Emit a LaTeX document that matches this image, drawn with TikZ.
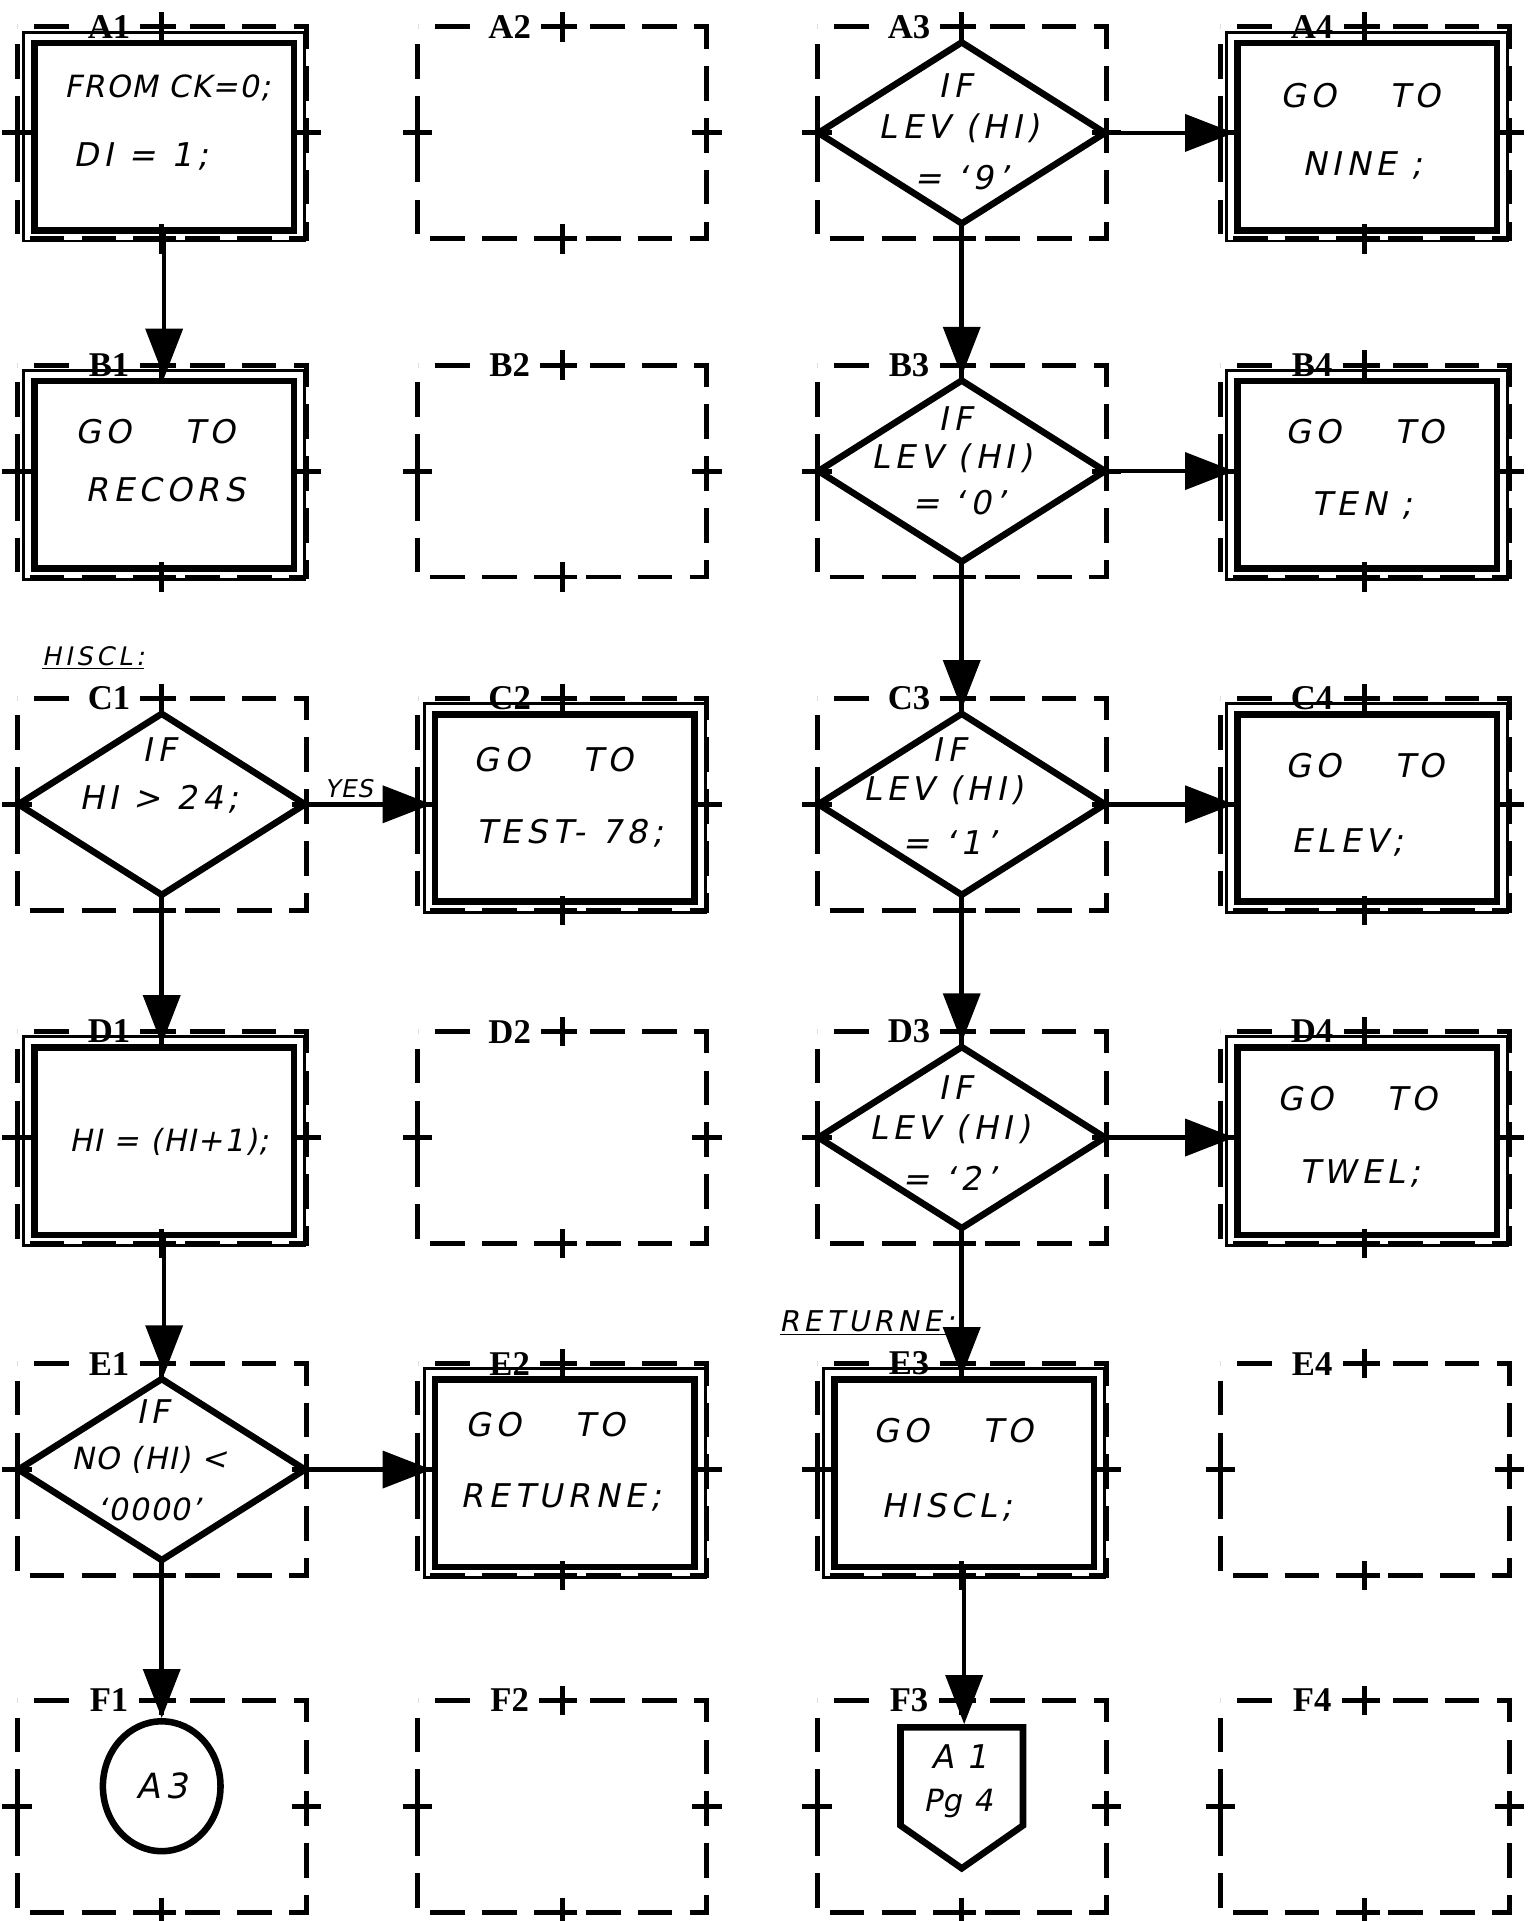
\documentclass[tikz,border=0pt]{standalone}
\usepackage{fontspec}
\setmainfont{Liberation Serif}
\newfontfamily\hand[FakeSlant=0.2,LetterSpace=15]{DejaVu Sans}
\newfontfamily\handn[FakeSlant=0.2,LetterSpace=4]{DejaVu Sans}
\usetikzlibrary{arrows.meta,shapes.geometric,shapes.symbols,calc,decorations}

\tikzset{
  cellbox/.style={line width=2.4pt, dash pattern=on 17pt off 8pt, dash expand off},
  crossmark/.style={line width=2.4pt},
  celllabel/.style={font=\bfseries\fontsize{17}{17}\selectfont, fill=white, inner xsep=5pt, inner ysep=1pt},
  procbox/.style={draw, line width=3.2pt, minimum width=127.2pt, minimum height=91.8pt, inner sep=0pt},
  decision/.style={draw, diamond, line width=3.2pt, minimum width=141.6pt, minimum height=90pt, inner sep=0pt},
  hw/.style={font=\hand\fontsize{16}{16}\selectfont, inner sep=0pt},
  hwn/.style={font=\handn\fontsize{15}{15}\selectfont, inner sep=0pt},
  arr/.style={line width=2.2pt, -{Triangle[length=24pt,width=18pt]}},
  outerline/.style={line width=1.4pt},
}

\newcommand\gridcell[3]{%
  \draw[cellbox] (#2,#3) rectangle ++(236,173);
  \draw[crossmark] (#2+106,#3) -- ++(24,0) (#2+118,#3-12) -- ++(0,24)
     (#2+106,#3+173) -- ++(24,0) (#2+118,#3+161) -- ++(0,24)
     (#2-12,#3+86.5) -- ++(24,0) (#2,#3+74.5) -- ++(0,24)
     (#2+224,#3+86.5) -- ++(24,0) (#2+236,#3+74.5) -- ++(0,24);
  \node[celllabel] (lab#1) at (#2+75,#3) {#1};
}
\newcommand\dblbox[1]{%
  \draw[outerline] ($(#1.north west)+(-6,-6)$) rectangle ($(#1.south east)+(6,6)$);
}

\begin{document}
\begin{tikzpicture}[x=0.6pt,y=-0.6pt]
\fill[white] (0,0) rectangle (1249,1568);
\useasboundingbox (0,0) rectangle (1249,1568);

\foreach \r/\t in {A/22,B/298,C/570,D/842,E/1113,F/1388}{
  \foreach \c/\l in {1/14,2/341,3/667,4/996}{
    \gridcell{\r\c}{\l}{\t}
  }
}

% process boxes
\node[procbox] (a1) at (134,111.5) {};
\node[procbox] (b1) at (134,387.5) {};
\node[procbox] (c2) at (461,659.5) {};
\node[procbox] (d1) at (134,931.5) {};
\node[procbox] (e2) at (461,1202.5) {};
\node[procbox] (a4) at (1116,111.5) {};
\node[procbox] (b4) at (1116,387.5) {};
\node[procbox] (c4) at (1116,659.5) {};
\node[procbox] (d4) at (1116,931.5) {};
\node[procbox] (e3) at (787,1202.5) {};
\foreach \n in {a1,b1,c2,d1,e2,a4,b4,c4,d4,e3}{\dblbox{\n}}

% decisions
\node[decision] (a3) at (785,108.5) {};
\node[decision] (b3) at (785,384.5) {};
\node[decision] (c3) at (785,656.5) {};
\node[decision] (d3) at (785,928.5) {};
\node[decision] (c1) at (132,656.5) {};
\node[decision] (e1) at (132,1199.5) {};

% connectors
\node[draw, ellipse, line width=3.2pt, minimum width=57.6pt, minimum height=63.6pt, inner sep=0pt] (f1) at (132,1458) {};
\node[draw, signal, signal to=south, signal from=nowhere, signal pointer angle=110, line width=3.2pt, minimum width=60pt, minimum height=48pt, inner sep=0pt] (f3) at (785,1450) {};

% texts
\node[hwn] (a1t1) at (137,72) {FROM CK=0;};
\node[hw] (a1t2) at (115,128) {DI = 1;};
\node[hw] (b1t1) at (127,352) {GO\hspace{26pt}TO};
\node[hw] (b1t2) at (135,400) {RECORS};
\node[hw] (c2t1) at (452,620) {GO\hspace{26pt}TO};
\node[hw] (c2t2) at (465,680) {TEST- 78;};
\node[hwn] (d1t1) at (138,932) {HI = (HI+1);};
\node[hw] (e2t1) at (445,1163) {GO\hspace{26pt}TO};
\node[hw] (e2t2) at (458,1222) {RETURNE;};
\node[hw] (a4t1) at (1110,78) {GO\hspace{26pt}TO};
\node[hw] (a4t2) at (1112,135) {NINE ;};
\node[hw] (b4t1) at (1114,352) {GO\hspace{26pt}TO};
\node[hw] (b4t2) at (1112,413) {TEN ;};
\node[hw] (c4t1) at (1114,625) {GO\hspace{26pt}TO};
\node[hw] (c4t2) at (1100,688) {ELEV;};
\node[hw] (d4t1) at (1108,897) {GO\hspace{26pt}TO};
\node[hw] (d4t2) at (1110,958) {TWEL;};
\node[hw] (e3t1) at (778,1168) {GO\hspace{26pt}TO};
\node[hw] (e3t2) at (773,1230) {HISCL;};

\node[hw] (a3t1) at (780,70) {IF};
\node[hw] (a3t2) at (783,105) {LEV (HI)};
\node[hw] (a3t3) at (785,145) {= ‘9’};
\node[hw] (b3t1) at (780,342) {IF};
\node[hw] (b3t2) at (777,374) {LEV (HI)};
\node[hw] (b3t3) at (783,410) {= ‘0’};
\node[hw] (c3t1) at (775,612) {IF};
\node[hw] (c3t2) at (770,645) {LEV (HI)};
\node[hw] (c3t3) at (775,688) {= ‘1’};
\node[hw] (d3t1) at (780,888) {IF};
\node[hw] (d3t2) at (775,922) {LEV (HI)};
\node[hw] (d3t3) at (775,962) {= ‘2’};
\node[hw] (c1t1) at (130,612) {IF};
\node[hw] (c1t2) at (130,652) {HI > 24;};
\node[hw] (e1t1) at (125,1152) {IF};
\node[hwn] (e1t2) at (122,1192) {NO (HI) <};
\node[hwn] (e1t3) at (122,1232) {‘0000’};

\node[hw, font=\hand\fontsize{17}{17}\selectfont] (f1t) at (f1) {A3};
\node[hw] (f3t1) at (783,1434) {A\hspace{6pt}1};
\node[hwn] (f3t2) at (782,1472) {Pg 4};

\node[hw, font=\hand\fontsize{12.5}{12.5}\selectfont] (hiscl) at (76,537) {\underline{HISCL:}};
\node[hw, font=\hand\fontsize{14}{14}\selectfont] (returne) at (708,1080) {\underline{RETURNE:}};

% arrows
\draw[arr] (a1.south) -- (b1.north);
\draw[arr] (a3.east) -- (a3.east -| a4.west);
\draw[arr] (a3.south) -- (b3.north);
\draw[arr] (b3.east) -- (b3.east -| b4.west);
\draw[arr] (b3.south) -- (c3.north);
\draw[arr] (c3.east) -- (c3.east -| c4.west);
\draw[arr] (c3.south) -- (d3.north);
\draw[arr] (d3.east) -- (d3.east -| d4.west);
\draw[arr] (d3.south) -- (d3.south |- e3.north);
\draw[arr] (e3.south) -- (e3.south |- f3.north);
\draw[arr] (c1.east) -- (c1.east -| c2.west) node[pos=0.32, above=2pt, font=\handn\fontsize{12}{12}\selectfont, inner sep=0pt] (yes) {YES};
\draw[arr] (c1.south) -- (c1.south |- d1.north);
\draw[arr] (d1.south) -- (d1.south |- e1.north);
\draw[arr] (e1.east) -- (e1.east -| e2.west);
\draw[arr] (e1.south) -- (e1.south |- f1.north);
\end{tikzpicture}
\end{document}
